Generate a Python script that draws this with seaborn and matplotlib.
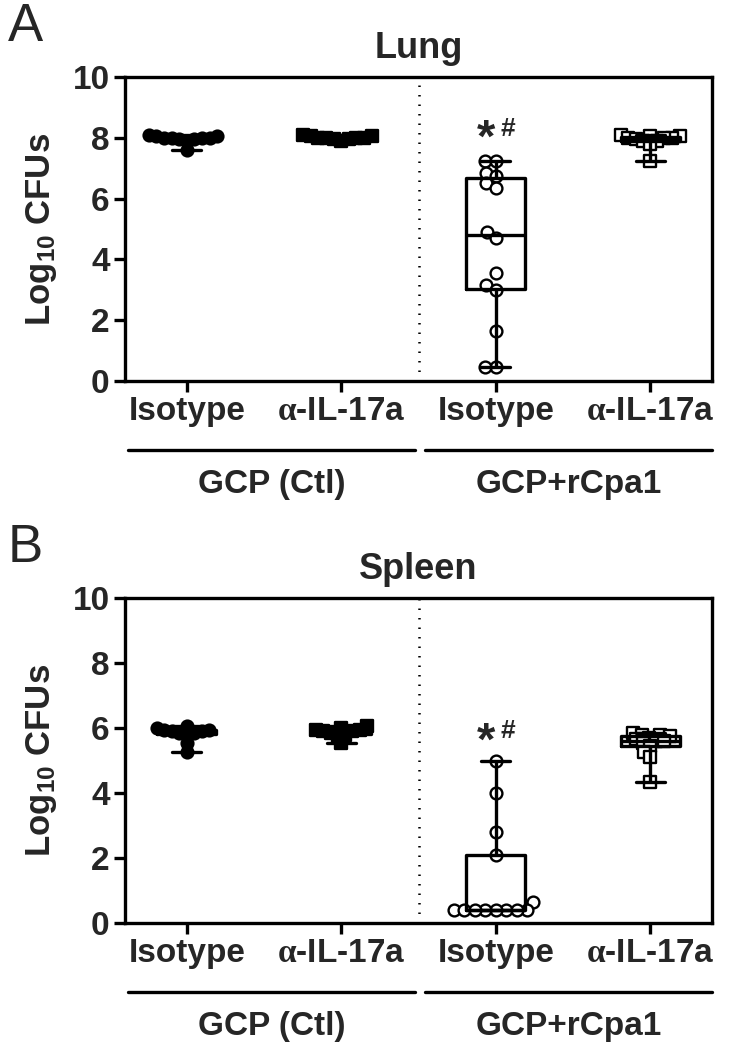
import numpy as np
import pandas as pd
import matplotlib
matplotlib.use("Agg")
import matplotlib.pyplot as plt
import seaborn as sns

# ---------------- data ----------------
categories = ["GCP_Isotype", "GCP_IL17a", "rCpa1_Isotype", "rCpa1_IL17a"]
tick_labels = ["Isotype", r"$\mathsf{\alpha}$-IL-17a", "Isotype", r"$\mathsf{\alpha}$-IL-17a"]
group_labels = ["GCP (Ctl)", "GCP+rCpa1"]
panel_titles = ["Lung", "Spleen"]
panel_letters = ["A", "B"]

lung_gcp_iso = [8.10, 8.05, 8.05, 8.00, 8.00, 8.00, 7.95, 7.95, 7.90, 8.00, 7.60]
lung_gcp_il17 = [8.08, 8.05, 8.00, 8.00, 8.00, 7.95, 8.05, 7.95, 8.00, 7.90]
lung_rcpa_iso = [7.25, 7.25, 6.85, 6.75, 6.50, 6.35, 4.90, 4.70, 3.55, 3.15, 3.00, 1.65, 0.45, 0.45]
lung_rcpa_il17 = [8.10, 8.05, 8.05, 8.00, 8.00, 8.00, 7.95, 7.90, 7.90, 7.80, 7.25]

spleen_gcp_iso = [6.05, 6.00, 5.95, 5.95, 5.90, 5.90, 5.85, 5.85, 5.80, 5.55, 5.25]
spleen_gcp_il17 = [6.05, 6.00, 5.95, 5.95, 5.90, 5.90, 5.85, 5.80, 5.75, 5.55]
spleen_rcpa_iso = [5.00, 4.00, 2.80, 2.10, 0.65, 0.40, 0.40, 0.40, 0.40, 0.40, 0.40, 0.40, 0.40]
spleen_rcpa_il17 = [5.85, 5.80, 5.80, 5.75, 5.70, 5.65, 5.60, 5.60, 5.55, 5.45, 5.25, 5.10, 4.35]

lung = [lung_gcp_iso, lung_gcp_il17, lung_rcpa_iso, lung_rcpa_il17]
spleen = [spleen_gcp_iso, spleen_gcp_il17, spleen_rcpa_iso, spleen_rcpa_il17]

markers = ["o", "s", "o", "s"]
facecolors = ["black", "black", "white", "white"]
swarm_sizes = [3.6, 3.6, 5.5, 3.6]

sig_text_pos = [(7.95, 8.3), (5.55, 5.9)]  # y of "*" and "#" for each panel

# ---------------- style ----------------
sns.set_theme(style="ticks")
plt.rcParams["font.family"] = ["Liberation Sans", "DejaVu Sans"]
plt.rcParams["font.weight"] = "bold"
plt.rcParams["mathtext.fontset"] = "custom"
plt.rcParams["mathtext.rm"] = "Liberation Sans:bold"
plt.rcParams["mathtext.it"] = "Liberation Sans:bold"
plt.rcParams["mathtext.bf"] = "Liberation Sans:bold"
plt.rcParams["mathtext.sf"] = "Liberation Serif"

W, H = 729, 1050
fig = plt.figure(figsize=(W / 100, H / 100), dpi=100)

ax_px = [(77, 381), (598, 923)]
left_px, right_px = 125, 712

LW = 2.4
FS_TICK = 24
axes = []

for p, (vals, (top, bot)) in enumerate(zip([lung, spleen], ax_px)):
    ax = fig.add_axes([left_px / W, 1 - bot / H, (right_px - left_px) / W, (bot - top) / H])
    axes.append(ax)
    df = pd.DataFrame({
        "group": np.concatenate([[c] * len(v) for c, v in zip(categories, vals)]),
        "value": np.concatenate(vals),
    })

    for i, c in enumerate(categories):
        sub = df[df["group"] == c]
        sns.swarmplot(data=sub, x="group", y="value", order=categories, ax=ax,
                      marker=markers[i], color=facecolors[i], edgecolor="black",
                      linewidth=1.7, size=swarm_sizes[i], zorder=2)

    sns.boxplot(data=df, x="group", y="value", order=categories, ax=ax,
                whis=(0, 100), width=0.38, fill=False, color="black",
                linewidth=LW, showfliers=False, zorder=3)

    ax.axvline(1.5, color="black", lw=1.8, ls=(0, (0.6, 3.2)), zorder=1)

    ax.set_xlim(-0.4, 3.4)
    ax.set_ylim(0, 10)
    ax.set_yticks([0, 2, 4, 6, 8, 10])
    ax.set_xticks(range(4))
    ax.set_xticklabels(tick_labels)
    ax.set_xlabel("")
    ax.set_ylabel(r"Log$_{\mathregular{10}}$ CFUs", fontsize=25, fontweight="bold", labelpad=10)
    ax.tick_params(axis="both", which="major", length=8, width=LW, direction="out",
                   labelsize=FS_TICK, color="black", pad=3)
    for lab in ax.get_xticklabels() + ax.get_yticklabels():
        lab.set_fontweight("bold")
    for s in ax.spines.values():
        s.set_linewidth(LW)
        s.set_color("black")
        s.set_visible(True)

    ax.set_title(panel_titles[p], fontsize=26, fontweight="bold", pad=14)

    ys, yh = sig_text_pos[p]
    ax.text(1.94, ys, "*", ha="center", va="center", fontsize=34, fontweight="bold")
    ax.text(2.08, yh, "#", ha="center", va="center", fontsize=19, fontweight="bold")

    ly = 1 - (bot + 69) / H
    ty = 1 - (bot + 104) / H
    for (x0, x1), lab in zip([(128, 415), (425, 712)], group_labels):
        fig.add_artist(plt.Line2D([x0 / W, x1 / W], [ly, ly], transform=fig.transFigure,
                                  color="black", lw=LW))
        fig.text((x0 + x1) / 2 / W, ty, lab, ha="center", va="center",
                 fontsize=24, fontweight="bold")

    fig.text(8 / W, 1 - (top - 75) / H, panel_letters[p], ha="left", va="top",
             fontsize=38, fontweight="normal")

# compute compact swarm positions, then enlarge markers without re-swarming
fig.canvas.draw()
for ax in axes:
    for coll in ax.collections:
        if "draw" in coll.__dict__:
            del coll.__dict__["draw"]
        if len(coll.get_offsets()) > 0:
            coll.set_sizes([8.5 ** 2])

fig.savefig("out.png", dpi=100)
